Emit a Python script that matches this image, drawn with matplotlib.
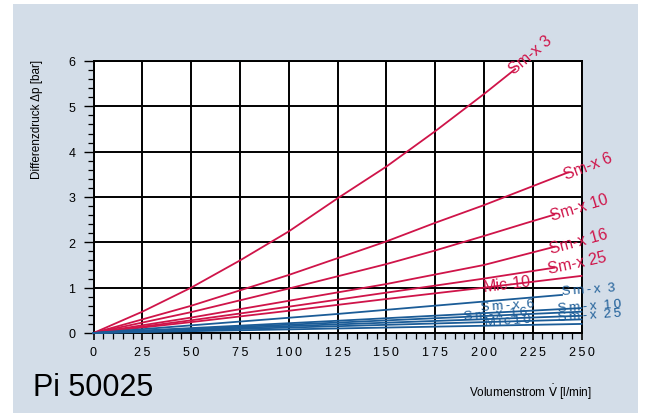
import matplotlib
import matplotlib.pyplot as plt
from matplotlib.patches import Rectangle
from matplotlib.ticker import MultipleLocator
matplotlib.use('Agg')

# red curves (Sm-x / Mic, first set)
red_names = ['Sm-x 3', 'Sm-x 6', 'Sm-x 10', 'Sm-x 16', 'Sm-x 25', 'Mic-10']
red_x = [
    [0, 25, 50, 75, 100, 125, 150, 175, 200, 216],
    [0, 50, 100, 125, 150, 175, 200, 243],
    [0, 50, 100, 150, 175, 200, 222, 236],
    [0, 50, 100, 150, 200, 236],
    [0, 50, 100, 150, 200, 236],
    [0, 50, 100, 150, 200, 250],
]
red_y = [
    [0, 0.47, 1.0, 1.6, 2.24, 2.97, 3.67, 4.45, 5.27, 5.82],
    [0, 0.6, 1.28, 1.65, 2.02, 2.43, 2.82, 3.54],
    [0, 0.46, 0.98, 1.52, 1.82, 2.14, 2.43, 2.61],
    [0, 0.34, 0.71, 1.08, 1.5, 1.9],
    [0, 0.28, 0.58, 0.89, 1.2, 1.44],
    [0, 0.24, 0.49, 0.75, 1.0, 1.26],
]

# blue curves (second set)
blue_names = ['Sm-x 3', 'Sm-x 6', 'Sm-x 10', 'Sm-x 16', 'Sm-x 25', 'Mic 10']
blue_x = [
    [0, 125, 240],
    [0, 125, 250],
    [0, 125, 250],
    [0, 125, 250],
    [0, 125, 250],
    [0, 125, 250],
]
blue_y = [
    [0, 0.42, 0.84],
    [0, 0.27, 0.55],
    [0, 0.23, 0.47],
    [0, 0.19, 0.38],
    [0, 0.15, 0.30],
    [0, 0.10, 0.20],
]

x_ticks = [0, 25, 50, 75, 100, 125, 150, 175, 200, 225, 250]
y_ticks = [0, 1, 2, 3, 4, 5, 6]

RED = '#cf1449'
BLUE = '#1b5c97'
BG = '#d3dde8'

plt.rcParams['font.family'] = ['Liberation Sans', 'DejaVu Sans']

fig = plt.figure(figsize=(6.46, 4.14), dpi=100)
fig.patches.append(Rectangle((13 / 646, 0), 625 / 646, 409 / 414,
                             transform=fig.transFigure, facecolor=BG,
                             edgecolor='none', zorder=-10))

ax = fig.add_axes([93.5 / 646, 1 - 334 / 414, 488 / 646, 272 / 414])
ax.set_facecolor('white')

for xs, ys in zip(red_x, red_y):
    ax.plot(xs, ys, color=RED, lw=1.3, zorder=3, clip_on=False)
for xs, ys in zip(blue_x, blue_y):
    ax.plot(xs, ys, color=BLUE, lw=1.3, zorder=3, clip_on=False)

ax.set_xlim(0, 250)
ax.set_ylim(0, 6)
ax.set_xticks(x_ticks)
ax.set_yticks(y_ticks)
ax.set_xticklabels(['\u2009'.join(str(t)) for t in x_ticks])
ax.xaxis.set_minor_locator(MultipleLocator(5))
ax.yaxis.set_minor_locator(MultipleLocator(0.2))
ax.grid(True, which='major', color='black', lw=1.4, zorder=1)
for s in ax.spines.values():
    s.set_linewidth(1.4)
ax.tick_params(axis='x', which='major', length=5, width=1.2, pad=4, labelsize=9)
ax.tick_params(axis='x', which='minor', length=4, width=0.9)
ax.tick_params(axis='y', which='major', length=7, width=1.0, pad=6, labelsize=9)
ax.tick_params(axis='y', which='minor', length=4, width=0.9)

# red labels
red_lab = [(214, 5.78, 40), (241, 3.5, 21), (234, 2.58, 17),
           (234, 1.87, 15), (233, 1.41, 12)]
for name, (lx, ly, rot) in zip(red_names[:5], red_lab):
    ax.text(lx, ly, name, color=RED, fontsize=11.5, rotation=rot,
            rotation_mode='anchor', ha='left', va='center', zorder=5,
            clip_on=False)
ax.text(212, 1.1, red_names[5], color=RED, fontsize=11.5, rotation=7,
        rotation_mode='anchor', ha='center', va='center', zorder=5)

# blue labels
blue_lab = [(240, 0.92, 'left'), (212, 0.62, 'center'), (238, 0.56, 'left'),
            (206, 0.42, 'center'), (238, 0.36, 'left'), (212, 0.27, 'center')]
for name, (lx, ly, ha) in zip(blue_names, blue_lab):
    ax.text(lx, ly, '\u2009'.join(name.replace(' ', '')).replace('x\u2009', 'x  '),
            color=BLUE, fontsize=9.5, rotation=4, rotation_mode='anchor',
            ha=ha, va='center', zorder=5, clip_on=False)

fig.text(37 / 646, 1 - 60 / 414, 'Differenzdruck \u0394p [bar]', rotation=90,
         ha='center', va='top', fontsize=8.5)
fig.text(592 / 646, 1 - 392 / 414, r'Volumenstrom $\dot{\mathrm{V}}$ [l/min]',
         ha='right', va='center', fontsize=8.5,
         family=['Liberation Sans Narrow', 'Liberation Sans'])
fig.text(33 / 646, 1 - 388 / 414, 'Pi 50025', ha='left', va='center',
         fontsize=22, family=['Liberation Sans Narrow', 'Liberation Sans'])

fig.savefig('out.png', dpi=100)
